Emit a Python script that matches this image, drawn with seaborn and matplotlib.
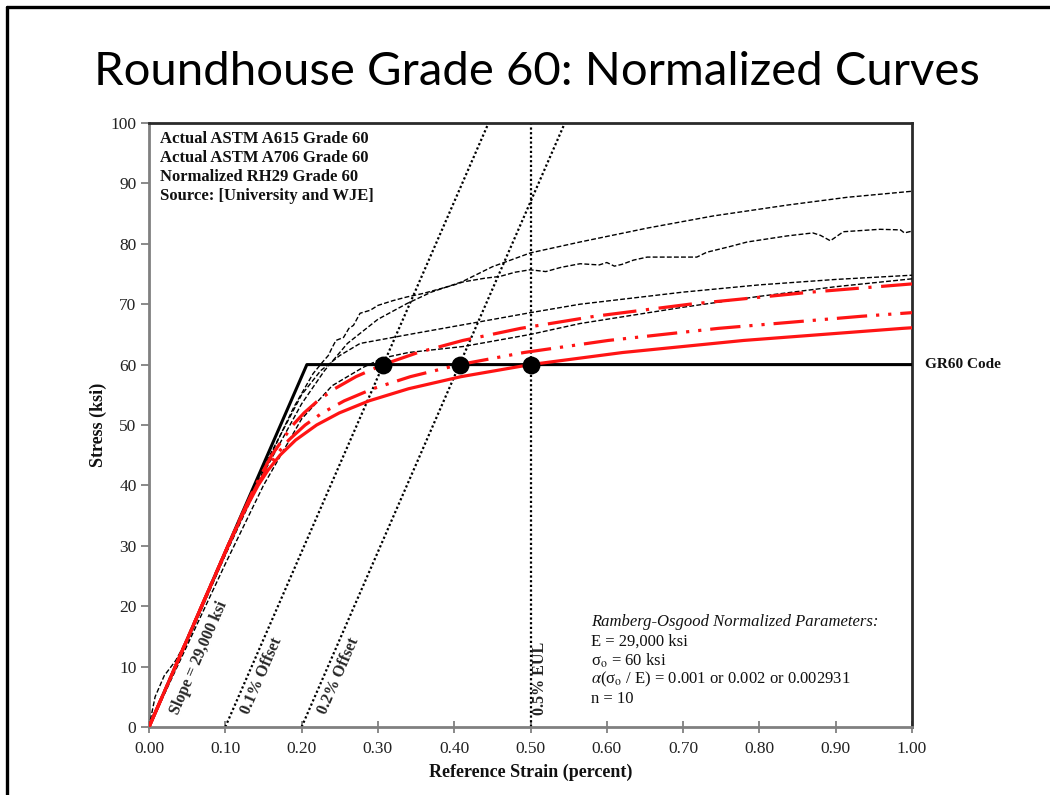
import matplotlib
matplotlib.use("Agg")
import matplotlib.pyplot as plt
from matplotlib.lines import Line2D
import seaborn as sns
import pandas as pd

# ---------------- data ----------------
# GR60 code idealised bilinear curve (strain in percent, stress in ksi)
code_strain = [0.0, 0.2069, 1.0]
code_stress = [0.0, 60.0, 60.0]

# Offset lines (slope 29,000 ksi) and their end points
offset_01_strain = [0.10, 0.445]
offset_02_strain = [0.20, 0.545]
offset_stress = [0.0, 100.0]
eul_strain = 0.50

# Ramberg-Osgood normalized curves
ro_a_strain = [0.0, 0.0345, 0.0690, 0.1035, 0.1212, 0.1396, 0.1608, 0.1886, 0.2032, 0.2211,
               0.2433, 0.2712, 0.3069, 0.3526, 0.4114, 0.4870, 0.5841, 0.7086, 0.8675, 1.0]
ro_a_stress = [0, 10, 20, 30, 35, 40, 45, 50, 52, 54, 56, 58, 60, 62, 64, 66, 68, 70, 72, 73.36]

ro_b_strain = [0.0, 0.0345, 0.0690, 0.1036, 0.1216, 0.1414, 0.1665, 0.1831, 0.2047, 0.2271,
               0.2559, 0.2934, 0.3425, 0.4069, 0.4914, 0.6020, 0.7463, 0.9337, 1.0]
ro_b_stress = [0, 10, 20, 30, 35, 40, 45, 47.5, 50, 52, 54, 56, 58, 60, 62, 64, 66, 68, 68.6]

ro_c_strain = [0.0, 0.0345, 0.0690, 0.1037, 0.1220, 0.1430, 0.1559, 0.1717, 0.1921, 0.2197,
               0.2494, 0.2884, 0.3401, 0.4088, 0.5000, 0.6207, 0.7795, 0.9878, 1.0]
ro_c_stress = [0, 10, 20, 30, 35, 40, 42.5, 45, 47.5, 50, 52, 54, 56, 58, 60, 62, 64, 66, 66.1]

# Actual test curves
test_a_strain = [0.0, 0.05, 0.10, 0.15, 0.20, 0.23, 0.26, 0.30, 0.338, 0.37, 0.41, 0.45, 0.50,
                 0.565, 0.653, 0.739, 0.836, 0.915, 1.0]
test_a_stress = [0.0, 14.0, 28.5, 42.0, 53.5, 59.0, 63.5, 67.5, 70.1, 72.0, 73.7, 76.2, 78.5,
                 80.3, 82.6, 84.6, 86.4, 87.7, 88.7]

test_b_strain = [0.0, 0.008, 0.02, 0.035, 0.05, 0.065, 0.075, 0.10, 0.15, 0.19, 0.215, 0.228,
                 0.235, 0.24, 0.245, 0.255, 0.262, 0.268, 0.2766, 0.29, 0.30, 0.32, 0.338, 0.36,
                 0.38, 0.40, 0.412, 0.44, 0.46, 0.48, 0.4995, 0.52, 0.54, 0.565, 0.59, 0.60,
                 0.61, 0.62, 0.635, 0.653, 0.70, 0.718, 0.731, 0.76, 0.784, 0.81, 0.836, 0.87,
                 0.88, 0.893, 0.91, 0.958, 0.985, 0.99, 1.0]
test_b_stress = [0.0, 5.0, 8.5, 11.0, 14.5, 18.5, 21.5, 28.5, 42.5, 53.0, 58.5, 60.5, 61.5,
                 62.8, 64.0, 64.5, 66.0, 66.5, 68.5, 69.0, 69.8, 70.6, 71.2, 71.8, 72.5, 73.2,
                 73.7, 74.3, 74.6, 75.3, 75.7, 75.4, 76.1, 76.7, 76.5, 76.9, 76.3, 76.6, 77.3,
                 77.8, 77.8, 77.8, 78.6, 79.5, 80.3, 80.8, 81.3, 81.8, 81.4, 80.5, 82.0, 82.4,
                 82.3, 81.8, 82.1]

test_c_strain = [0.0, 0.05, 0.10, 0.15, 0.20, 0.225, 0.25, 0.2766, 0.35, 0.412, 0.50, 0.565,
                 0.70, 0.80, 0.90, 1.0]
test_c_stress = [0.0, 14.5, 29.0, 43.0, 55.0, 59.0, 61.5, 63.5, 65.2, 66.6, 68.6, 70.0, 72.0,
                 73.2, 74.1, 74.8]

test_d_strain = [0.0, 0.05, 0.10, 0.15, 0.20, 0.24, 0.28, 0.307, 0.34, 0.412, 0.50, 0.565,
                 0.70, 0.80, 0.90, 1.0]
test_d_stress = [0.0, 13.5, 27.0, 40.0, 51.0, 56.5, 59.5, 61.1, 62.0, 63.0, 65.0, 66.8, 69.5,
                 71.3, 72.9, 74.2]

# Intersection of the code plateau with the 0.1 %, 0.2 % offsets and 0.5 % EUL
dot_strain = [0.307, 0.407, 0.50]
dot_stress = [60.0, 60.0, 60.0]

x_ticks = [0.0, 0.1, 0.2, 0.3, 0.4, 0.5, 0.6, 0.7, 0.8, 0.9, 1.0]
x_tick_labels = ["0.00", "0.10", "0.20", "0.30", "0.40", "0.50", "0.60", "0.70", "0.80",
                 "0.90", "1.00"]
y_ticks = [0, 10, 20, 30, 40, 50, 60, 70, 80, 90, 100]

source_lines = ["Actual ASTM A615 Grade 60", "Actual ASTM A706 Grade 60",
                "Normalized RH29 Grade 60", "Source: [University and WJE]"]
param_title = "Ramberg-Osgood Normalized Parameters:"
param_lines = ["E = 29,000 ksi", r"σ$_{\mathrm{o}}$ = 60 ksi",
               r"$\alpha$(σ$_{\mathrm{o}}$ / E) = 0.001 or 0.002 or 0.002931", "n = 10"]

# ---------------- style ----------------
sns.set_theme(style="white")
plt.rcParams["font.family"] = ["Liberation Serif", "DejaVu Serif"]
plt.rcParams["mathtext.fontset"] = "stix"

fig = plt.figure(figsize=(10.5, 7.95), dpi=100)
fig.patch.set_facecolor("white")
ax = fig.add_axes([149 / 1050, 1 - 727 / 795, 763 / 1050, 604 / 795])
ax.set_facecolor("white")

RED = "#ff1414"
dash_black = (0, (3.5, 1.6))
dot_black = (0, (1.0, 1.1))


def line(xs, ys, **kw):
    df = pd.DataFrame({"strain": xs, "stress": ys})
    sns.lineplot(data=df, x="strain", y="stress", ax=ax, sort=False, estimator=None,
                 legend=False, **kw)


# Test curves
for xs, ys in [(test_a_strain, test_a_stress), (test_b_strain, test_b_stress),
               (test_c_strain, test_c_stress), (test_d_strain, test_d_stress)]:
    line(xs, ys, color="black", linewidth=1.0, linestyle=dash_black, zorder=3)

# Offset and EUL reference lines
line(offset_01_strain, offset_stress, color="black", linewidth=1.6, linestyle=dot_black, zorder=2)
line(offset_02_strain, offset_stress, color="black", linewidth=1.6, linestyle=dot_black, zorder=2)
ax.axvline(eul_strain, color="black", linewidth=1.6, linestyle=dot_black, zorder=2)

# Code curve
line(code_strain, code_stress, color="black", linewidth=2.2, zorder=4)

# Ramberg-Osgood curves
line(ro_c_strain, ro_c_stress, color=RED, linewidth=2.3, zorder=5)
line(ro_b_strain, ro_b_stress, color=RED, linewidth=2.3,
     linestyle=(0, (9.5, 2.8, 1.0, 2.8, 1.0, 2.8)), zorder=5)
line(ro_a_strain, ro_a_stress, color=RED, linewidth=2.3,
     linestyle=(0, (10.5, 3.0, 1.0, 3.0)), zorder=5)

sns.scatterplot(x=dot_strain, y=dot_stress, ax=ax, color="black", s=165, edgecolor="black",
                linewidth=0, zorder=6, legend=False)

# ---------------- axes ----------------
ax.set_xlim(0, 1.0)
ax.set_ylim(0, 100)
ax.set_xticks(x_ticks)
ax.set_xticklabels(x_tick_labels)
ax.set_yticks(y_ticks)
ax.tick_params(axis="x", direction="inout", length=8, width=1.3, color="#808080",
               labelsize=12.5, pad=6, bottom=True)
ax.tick_params(axis="y", direction="out", length=6, width=1.3, color="#808080",
               labelsize=12.5, pad=3, left=True)
for lab in ax.get_xticklabels() + ax.get_yticklabels():
    lab.set_color("#222222")

for side in ["left", "bottom"]:
    ax.spines[side].set_color("#808080")
    ax.spines[side].set_linewidth(2.0)
for side in ["top", "right"]:
    ax.spines[side].set_color("#2a2a2a")
    ax.spines[side].set_linewidth(2.0)

ax.set_xlabel("Reference Strain (percent)", fontsize=13, fontweight="bold", color="#111111")
ax.set_ylabel("Stress (ksi)", fontsize=13, fontweight="bold", color="#111111")
ax.xaxis.set_label_coords(0.5, -0.060)
ax.yaxis.set_label_coords(-0.055, 0.5)

# ---------------- annotations ----------------
for i, txt in enumerate(source_lines):
    ax.text(160 / 763 - 149 / 763, 1 - (139 + 19 * i - 123) / 604, txt,
            transform=ax.transAxes, ha="left", va="center", fontsize=12, fontweight="bold",
            color="#111111")

ax.text(1.017, 60, "GR60 Code", transform=ax.get_yaxis_transform(), ha="left", va="center",
        fontsize=11, fontweight="bold", color="#111111", clip_on=False)

rot = 66.5
ax.text(0.066, 11.4, "Slope = 29,000 ksi", rotation=rot, ha="center", va="center",
        fontsize=11.5, fontweight="bold", rotation_mode="anchor")
ax.text(0.147, 8.5, "0.1% Offset", rotation=rot, ha="center", va="center",
        fontsize=11.5, fontweight="bold", rotation_mode="anchor")
ax.text(0.249, 8.5, "0.2% Offset", rotation=rot, ha="center", va="center",
        fontsize=11.5, fontweight="bold", rotation_mode="anchor")
ax.text(0.513, 8.1, "0.5% EUL", rotation=90, ha="center", va="center",
        fontsize=11.5, fontweight="bold", rotation_mode="anchor")

ax.text(0.579, 17.4, param_title, fontsize=12, style="italic",
        ha="left", va="center", color="#111111")
for i, txt in enumerate(param_lines):
    ax.text(0.579, 14.2 - 3.2 * i, txt, fontsize=12, ha="left", va="center", color="#111111")

# ---------------- slide title and frame ----------------
fig.text(537 / 1050, 1 - 85 / 795, "Roundhouse Grade 60: Normalized Curves", ha="center",
         va="baseline", fontsize=34, family="Lato", color="black")
fig.add_artist(Line2D([7 / 1050, 7 / 1050], [0, 1 - 7 / 795], transform=fig.transFigure,
                      color="black", linewidth=2.4))
fig.add_artist(Line2D([7 / 1050, 1.0], [1 - 7 / 795, 1 - 7 / 795], transform=fig.transFigure,
                      color="black", linewidth=2.4))

fig.savefig("out.png", dpi=100, facecolor="white")
